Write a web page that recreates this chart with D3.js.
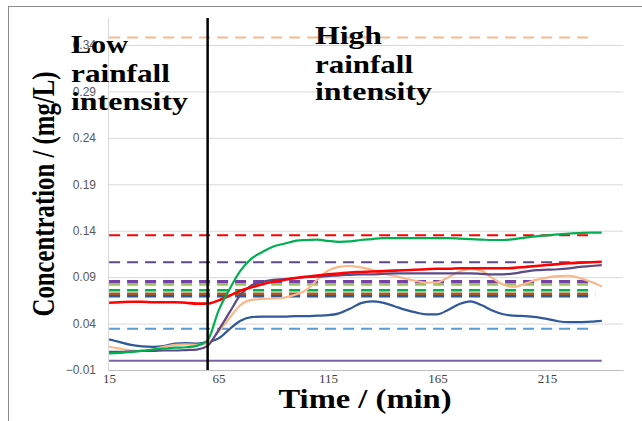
<!DOCTYPE html>
<html>
<head>
<meta charset="utf-8">
<script src="https://cdn.jsdelivr.net/npm/d3@7"></script>
<style>
  body { margin: 0; background: #fff; }
  svg { display: block; }
</style>
</head>
<body>
<div id="chart"></div>
<script>
// time in minutes (category axis every 5 min)
const times = [15, 20, 25, 30, 35, 40, 45, 50, 55, 60, 65, 70, 75, 80, 85, 90, 95, 100, 105, 110,
  115, 120, 125, 130, 135, 140, 145, 150, 155, 160, 165, 170, 175, 180, 185, 190, 195, 200, 205, 210,
  215, 220, 225, 230, 235, 240];

const redSeries = [0.0625, 0.063, 0.0635, 0.0635, 0.063, 0.063, 0.063, 0.0625, 0.0615, 0.0615,
  0.065, 0.070, 0.0755, 0.079, 0.0823, 0.085, 0.087, 0.089, 0.0905, 0.0918,
  0.093, 0.094, 0.095, 0.0955, 0.096, 0.0965, 0.097, 0.0975, 0.098, 0.0985,
  0.099, 0.099, 0.0995, 0.0995, 0.0995, 0.0995, 0.0995, 0.100, 0.101, 0.102,
  0.103, 0.104, 0.105, 0.1055, 0.106, 0.1065];

const greenSeries = [0.008, 0.0085, 0.0095, 0.0105, 0.012, 0.013, 0.014, 0.0145, 0.016, 0.022,
  0.054, 0.077, 0.097, 0.110, 0.117, 0.123, 0.126, 0.129, 0.130, 0.1305,
  0.129, 0.128, 0.1285, 0.130, 0.131, 0.132, 0.132, 0.132, 0.132, 0.132,
  0.132, 0.132, 0.1315, 0.131, 0.1305, 0.130, 0.130, 0.131, 0.1325, 0.134,
  0.135, 0.136, 0.137, 0.1375, 0.138, 0.138];

const blueSeries = [0.023, 0.020, 0.017, 0.0155, 0.015, 0.0158, 0.0185, 0.019, 0.0185, 0.020,
  0.024, 0.034, 0.043, 0.047, 0.0475, 0.0475, 0.0475, 0.048, 0.048, 0.0485,
  0.049, 0.051, 0.056, 0.062, 0.064, 0.0625, 0.059, 0.055, 0.052, 0.050,
  0.050, 0.055, 0.061, 0.064, 0.060, 0.054, 0.050, 0.0485, 0.048, 0.047,
  0.045, 0.0425, 0.0415, 0.0415, 0.042, 0.043];

const orangeSeries = [0.015, 0.013, 0.011, 0.0105, 0.012, 0.015, 0.017, 0.0175, 0.017, 0.019,
  0.031, 0.046, 0.060, 0.0655, 0.0665, 0.067, 0.068, 0.071, 0.076, 0.087,
  0.097, 0.101, 0.102, 0.1005, 0.098, 0.094, 0.0915, 0.0885, 0.086, 0.084,
  0.0845, 0.090, 0.096, 0.099, 0.097, 0.089, 0.082, 0.0795, 0.083, 0.087,
  0.0895, 0.091, 0.0915, 0.089, 0.085, 0.080];

const purpleSeries = [0.0095, 0.0095, 0.010, 0.0105, 0.0105, 0.011, 0.011, 0.0115, 0.012, 0.016,
  0.033, 0.052, 0.071, 0.081, 0.085, 0.087, 0.088, 0.089, 0.090, 0.0905,
  0.091, 0.092, 0.0925, 0.093, 0.093, 0.0935, 0.094, 0.094, 0.094, 0.094,
  0.094, 0.094, 0.094, 0.094, 0.0935, 0.093, 0.093, 0.094, 0.096, 0.0975,
  0.098, 0.0985, 0.0995, 0.101, 0.102, 0.103];

// guideline / standard levels (mg/L)
const refNames = ['orange', 'red', 'darkPurple', 'purple', 'lightGreen', 'green', 'brown', 'darkBlue', 'lightBlue', 'zero'];
const refValues = [0.348, 0.135, 0.106, 0.085, 0.082, 0.0758, 0.0715, 0.0693, 0.0345, 0.0];

const yTicks = [-0.01, 0.04, 0.09, 0.14, 0.19, 0.24, 0.29, 0.34];
const xTicks = [15, 65, 115, 165, 215];
const splitTime = 60;

const width = 642;
const height = 421;
const plotLeft = 108, plotRight = 623, plotBottom = 370, plotTop = 45;

const refStyle = {
  orange: { color: '#F7BA8E', w: 2, dash: '11,7' },
  red: { color: '#FF0000', w: 2, dash: '11,7' },
  darkPurple: { color: '#5E4B86', w: 2, dash: '11,7' },
  purple: { color: '#7540A8', w: 3.5, dash: '11,7' },
  lightGreen: { color: '#9BC45A', w: 2.5, dash: '11,7' },
  green: { color: '#00B050', w: 2.5, dash: '11,7' },
  brown: { color: '#A35A1C', w: 3.5, dash: '11,7' },
  darkBlue: { color: '#2F5A9A', w: 2.5, dash: '11,7' },
  lightBlue: { color: '#5B9BD5', w: 2, dash: '11,7' },
  zero: { color: '#7D62A3', w: 2, dash: null },
};

const curves = [
  { values: blueSeries, color: '#30599A' },
  { values: orangeSeries, color: '#F8B88B' },
  { values: purpleSeries, color: '#5B4A86' },
  { values: redSeries, color: '#FF0000' },
  { values: greenSeries, color: '#00B050' },
];

const svg = d3.select('#chart').append('svg')
  .attr('width', width)
  .attr('height', height);

// outer frame
svg.append('line').attr('x1', 8).attr('x2', width).attr('y1', 6.5).attr('y2', 6.5)
  .attr('stroke', '#8C8C8C');
svg.append('line').attr('x1', 8.5).attr('x2', 8.5).attr('y1', 6).attr('y2', height)
  .attr('stroke', '#8C8C8C');

const x = d3.scaleLinear().domain([14.5, 249.7]).range([plotLeft, plotRight]);
const y = d3.scaleLinear().domain([-0.01, 0.34]).range([plotBottom, plotTop]);

// y axis with gridlines
const yAxis = svg.append('g')
  .attr('transform', `translate(${plotLeft},0)`)
  .call(d3.axisLeft(y).tickValues(yTicks).tickFormat(d3.format('.2f'))
    .tickSize(-(plotRight - plotLeft)).tickPadding(12));
yAxis.select('.domain').remove();
yAxis.selectAll('.tick line').attr('stroke', '#D9D9D9').attr('stroke-width', 1);
yAxis.selectAll('.tick text')
  .style('font-family', 'Liberation Sans, Arial, sans-serif')
  .style('font-size', '12px')
  .attr('fill', '#595959');

svg.append('line')
  .attr('x1', plotLeft + 0.5).attr('x2', plotLeft + 0.5).attr('y1', 18).attr('y2', plotBottom)
  .attr('stroke', '#D9D9D9');

// x axis
const xAxis = svg.append('g')
  .attr('transform', `translate(0,${plotBottom})`)
  .call(d3.axisBottom(x).tickValues(xTicks).tickSize(0).tickPadding(4));
xAxis.select('.domain').attr('stroke', '#BFBFBF');
xAxis.selectAll('.tick text')
  .style('font-family', 'Liberation Serif, Times New Roman, serif')
  .style('font-size', '13px')
  .attr('fill', '#404040');

// reference levels
svg.append('g')
  .selectAll('line')
  .data(refNames.map((n, i) => ({ name: n, value: refValues[i] })))
  .join('line')
  .attr('x1', (d) => x(15))
  .attr('x2', (d) => (d.name === 'zero' ? x(240) : x(237)))
  .attr('y1', (d) => y(d.value))
  .attr('y2', (d) => y(d.value))
  .attr('stroke', (d) => refStyle[d.name].color)
  .attr('stroke-width', (d) => refStyle[d.name].w)
  .attr('stroke-dasharray', (d) => refStyle[d.name].dash);

// measured curves
const line = d3.line()
  .x((d, i) => x(times[i]))
  .y((d) => y(d))
  .curve(d3.curveMonotoneX);

svg.append('g')
  .selectAll('path')
  .data(curves)
  .join('path')
  .attr('d', (d) => line(d.values))
  .attr('fill', 'none')
  .attr('stroke', (d) => d.color)
  .attr('stroke-width', (d) => (d.color === '#FF0000' ? 2.6 : 2.2));

// split between the two rainfall phases
svg.append('line')
  .attr('x1', x(splitTime)).attr('x2', x(splitTime))
  .attr('y1', 18).attr('y2', plotBottom)
  .attr('stroke', '#000')
  .attr('stroke-width', 2.5);

// annotations
const serif = 'Liberation Serif, Times New Roman, serif';
function label(lines, x0, baselines, lengths, size) {
  lines.forEach((t, i) => {
    svg.append('text')
      .attr('x', x0).attr('y', baselines[i])
      .attr('textLength', lengths[i])
      .attr('lengthAdjust', 'spacingAndGlyphs')
      .style('font-family', serif)
      .style('font-weight', 'bold')
      .style('font-size', size + 'px')
      .attr('fill', '#000')
      .text(t);
  });
}
label(['Low', 'rainfall', 'intensity'], 71, [53, 82, 110], [57, 99, 117], 25);
label(['High', 'rainfall', 'intensity'], 315, [44, 73, 100], [67, 98, 117], 25);

// axis titles
svg.append('text')
  .attr('transform', 'translate(54,194) scale(1.25,1) rotate(-90)')
  .attr('text-anchor', 'middle')
  .attr('textLength', 245)
  .attr('lengthAdjust', 'spacingAndGlyphs')
  .style('font-family', serif)
  .style('font-weight', 'bold')
  .style('font-size', '25px')
  .text('Concentration / (mg/L)');

svg.append('text')
  .attr('x', 365).attr('y', 408)
  .attr('text-anchor', 'middle')
  .attr('textLength', 173)
  .attr('lengthAdjust', 'spacingAndGlyphs')
  .style('font-family', serif)
  .style('font-weight', 'bold')
  .style('font-size', '27px')
  .text('Time / (min)');
</script>
</body>
</html>
